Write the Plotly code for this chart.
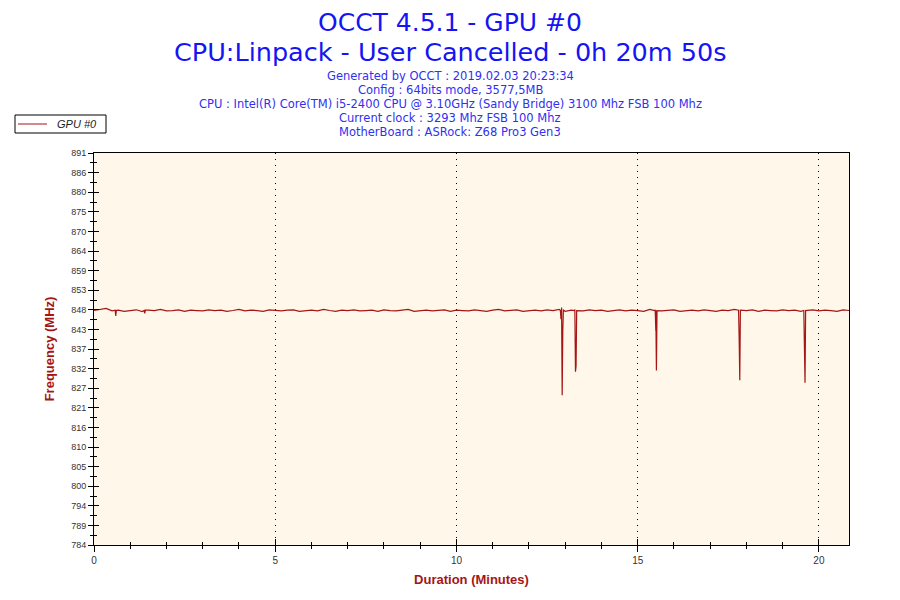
import plotly.graph_objects as go

# OCCT GPU #0 clock log, seconds from start and MHz
base_sec = list(range(0, 1251, 10))
base_mhz = [
    848.0, 848.2, 848.6, 847.9, 848.1, 847.8, 848.0, 848.2, 847.7, 848.1,
    848.0, 848.3, 847.9, 848.0, 848.2, 847.8, 848.1, 848.0, 847.9, 848.2,
    848.0, 848.1, 847.8, 848.0, 848.3, 847.9, 848.1, 848.0, 847.8, 848.2,
    848.0, 847.9, 848.1, 848.2, 847.8, 848.0, 848.1, 847.9, 848.3, 848.0,
    847.8, 848.1, 848.0, 848.2, 847.9, 848.0, 848.1, 847.8, 848.2, 848.0,
    847.9, 848.1, 848.3, 847.8, 848.0, 848.1, 847.9, 848.0, 848.2, 847.8,
    848.1, 848.0, 847.9, 848.2, 848.0, 847.8, 848.1, 848.3, 847.9, 848.0,
    848.2, 847.8, 848.0, 848.1, 847.9, 848.2, 848.0, 848.3, 847.8, 848.1,
    848.0, 847.9, 848.2, 848.0, 848.1, 847.8, 848.0, 848.2, 847.9, 848.1,
    848.0, 847.8, 848.3, 848.0, 847.9, 848.1, 848.2, 847.8, 848.0, 848.1,
    847.9, 848.2, 848.0, 847.8, 848.1, 848.0, 848.3, 847.9, 848.0, 848.2,
    847.8, 848.1, 848.0, 847.9, 848.2, 848.0, 848.1, 847.8, 848.0, 848.2,
    847.9, 848.1, 848.0, 847.8, 848.2, 848.0,
]

# short drops in clock (seconds, MHz)
drop_sec = [35, 36, 37, 83, 84, 85,
            772, 773, 774, 775, 776, 777,
            795, 796, 797, 798, 799,
            928, 929, 930, 931, 932,
            1067, 1068, 1069, 1070,
            1175, 1176, 1177, 1178]
drop_mhz = [848.1, 846.5, 848.0, 848.0, 847.2, 848.1,
            848.0, 845.6, 848.8, 824.9, 842.2, 848.1,
            848.0, 848.3, 831.3, 832.9, 848.0,
            848.0, 848.2, 842.5, 831.6, 848.0,
            848.1, 840.0, 829.0, 848.1,
            848.0, 839.5, 828.3, 848.0]

y_tick_labels = ['784', '789', '794', '800', '805', '810', '816', '821', '827', '832', '837',
                 '843', '848', '853', '859', '864', '870', '875', '880', '886', '891']
y_min, y_max = 784, 891
x_max = 20.83

info_lines = [
    'Generated by OCCT : 2019.02.03 20:23:34',
    'Config : 64bits mode, 3577,5MB',
    'CPU : Intel(R) Core(TM) i5-2400 CPU @ 3.10GHz (Sandy Bridge) 3100 Mhz FSB 100 Mhz',
    'Current clock : 3293 Mhz FSB 100 Mhz',
    'MotherBoard : ASRock: Z68 Pro3 Gen3',
]

pts = sorted(zip(base_sec + drop_sec, base_mhz + drop_mhz))
x_min_vals = [p[0] / 60 for p in pts]
y_vals = [p[1] for p in pts]

step = (y_max - y_min) / (len(y_tick_labels) - 1)
y_tick_pos = [y_min + i * step for i in range(len(y_tick_labels))]
y_minor_pos = [p + step / 2 for p in y_tick_pos[:-1]]

dark_red = '#A51515'
# the page body has an 8px margin, so the figure is drawn 8px in from the window corner
page_off = 8
fig_w, fig_h = 900 - page_off, 600 - page_off
plot_left, plot_right = 94 - page_off, 849 - page_off
plot_top, plot_bottom = 153 - page_off, 545 - page_off


def paper_x(px):
    # window pixel column -> paper coordinate
    return (px - page_off - plot_left) / (plot_right - plot_left)


def paper_y(px):
    # window pixel row -> paper coordinate
    return (plot_bottom - (px - page_off)) / (plot_bottom - plot_top)


fig = go.Figure()
fig.add_trace(go.Scatter(x=x_min_vals, y=y_vals, mode='lines', name='GPU #0',
                         line=dict(color=dark_red, width=1.2)))
# invisible trace so the overlay axes get drawn
fig.add_trace(go.Scatter(x=[0], y=[y_min], xaxis='x2', yaxis='y2', mode='markers',
                         marker=dict(opacity=0), showlegend=False, hoverinfo='skip'))

fig.update_layout(
    width=fig_w, height=fig_h,
    margin=dict(l=plot_left, r=fig_w - plot_right, t=plot_top, b=fig_h - plot_bottom, autoexpand=False),
    paper_bgcolor='white',
    plot_bgcolor='#FFF8EA',
    font=dict(family='Liberation Sans, Arial', color='#333333'),
    showlegend=False,
    xaxis=dict(range=[0, x_max], tickvals=[0, 5, 10, 15, 20],
               ticks='outside', ticklen=6, tickcolor='black', tickwidth=1,
               showline=True, linecolor='black', linewidth=1, mirror=True,
               showgrid=True, gridcolor='black', gridwidth=1, griddash='1px,5px',
               zeroline=False,
               minor=dict(dtick=1, ticks='outside', ticklen=3, tickcolor='black', showgrid=False),
               tickfont=dict(family='Liberation Sans Narrow, Liberation Sans, Arial', size=10, color='#333333'),
               title=dict(text='<b>Duration (Minutes)</b>', standoff=9,
                          font=dict(family='Liberation Sans Narrow, Liberation Sans, Arial', size=13, color=dark_red))),
    xaxis2=dict(range=[0, x_max], overlaying='x', side='bottom', anchor='y',
                tickvals=[0, 5, 10, 15, 20], ticks='inside', ticklen=6, tickcolor='black',
                showticklabels=False, showgrid=False, showline=False, zeroline=False,
                minor=dict(dtick=1, ticks='inside', ticklen=3, tickcolor='black', showgrid=False)),
    yaxis=dict(range=[y_min, y_max], tickvals=y_tick_pos, ticktext=y_tick_labels,
               ticks='outside', ticklen=5, tickcolor='black',
               showline=True, linecolor='black', linewidth=1, mirror=True,
               showgrid=False, zeroline=False,
               minor=dict(tickvals=y_minor_pos, ticks='outside',
                          ticklen=3, tickcolor='black', showgrid=False),
               tickfont=dict(family='Liberation Sans, Arial', size=9, color='#333333'),
               title=dict(text='<b>Frequency (MHz)</b>', standoff=13,
                          font=dict(family='Liberation Sans, Arial', size=13, color=dark_red))),
    yaxis2=dict(range=[y_min, y_max], overlaying='y', side='left', anchor='x',
                tickvals=y_tick_pos, ticks='inside', ticklen=5, tickcolor='black',
                showticklabels=False, showgrid=False, showline=False, zeroline=False,
                minor=dict(tickvals=y_minor_pos, ticks='inside',
                           ticklen=3, tickcolor='black', showgrid=False)),
)

# titles, centred on the window
fig.add_annotation(text='OCCT 4.5.1 - GPU #0', xref='paper', yref='paper',
                   x=paper_x(450), y=paper_y(23), xanchor='center', yanchor='middle', showarrow=False,
                   borderpad=0, font=dict(family='DejaVu Sans', size=25, color='#1414F5'))
fig.add_annotation(text='CPU:Linpack - User Cancelled - 0h 20m 50s', xref='paper', yref='paper',
                   x=paper_x(450), y=paper_y(52), xanchor='center', yanchor='middle', showarrow=False,
                   borderpad=0, font=dict(family='DejaVu Sans', size=25.5, color='#1414F5'))
for i, line in enumerate(info_lines):
    fig.add_annotation(text=line, xref='paper', yref='paper',
                       x=paper_x(450), y=paper_y(76 + 14 * i), xanchor='center', yanchor='middle',
                       showarrow=False,
                       font=dict(family='DejaVu Sans', size=11.5, color='#3030F0'))

# legend box in the top-left corner
fig.add_shape(type='rect', xref='paper', yref='paper',
              x0=paper_x(15), x1=paper_x(106), y0=paper_y(115), y1=paper_y(133),
              line=dict(color='black', width=1), fillcolor='white')
fig.add_shape(type='line', xref='paper', yref='paper',
              x0=paper_x(18), x1=paper_x(47), y0=paper_y(124), y1=paper_y(124),
              line=dict(color=dark_red, width=1))
fig.add_annotation(text='<i>GPU #0</i>', xref='paper', yref='paper',
                   x=paper_x(55), y=paper_y(124), xanchor='left', yanchor='middle', showarrow=False,
                   font=dict(family='Liberation Sans, Arial', size=11, color='#222222'))

fig.write_html('out.html')
